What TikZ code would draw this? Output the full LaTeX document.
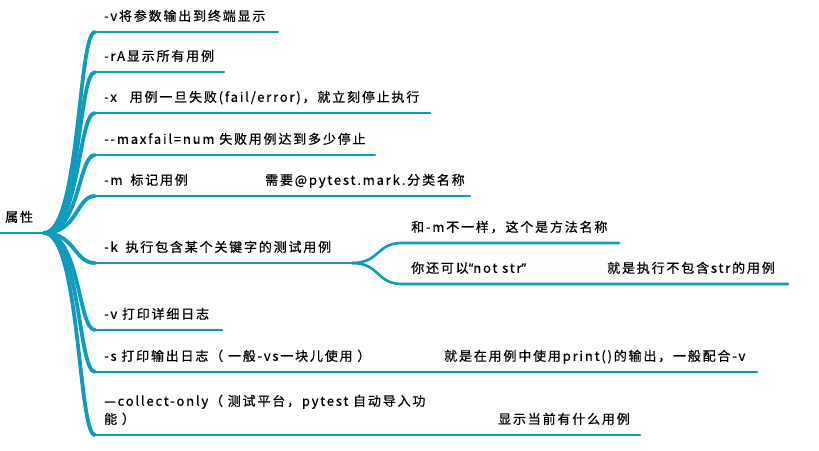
\documentclass[tikz,border=0pt]{standalone}
\usepackage{fontspec}
\setmainfont{Noto Sans CJK SC}[LetterSpace=14,FakeBold=0.6]
\newfontfamily\latinquote{Noto Sans}[FakeBold=0.6]
\definecolor{branchblue}{RGB}{16,154,187}

\begin{document}
\begin{tikzpicture}[x=1pt,y=-1pt,
    branch/.style={draw=branchblue,line width=2.6pt,line cap=round},
    stem/.style={draw=branchblue,line width=3.8pt,line cap=round},
    topic/.style={anchor=south west,inner xsep=9pt,inner ysep=8pt,text height=10pt,text depth=3pt,font=\fontsize{13}{18}\selectfont}]
\useasboundingbox (0,0) rectangle (819,450);

\node[topic,inner xsep=5pt] (root) at (0,233) {属性};
\coordinate (hub) at (44,233);
\draw[branch] (root.south west) -- (hub);

\node[topic] (v)       at (95,32)  {-v将参数输出到终端显示};
\coordinate (v-end) at (278,32);
\node[topic] (rA)      at (95,72)  {-rA显示所有用例};
\coordinate (rA-end) at (224,72);
\node[topic] (x)       at (95,113) {-x\hspace{1em}用例一旦失败(fail/error)，就立刻停止执行};
\coordinate (x-end) at (430,113);
\node[topic] (maxfail) at (95,155) {-{}-maxfail=num 失败用例达到多少停止};
\coordinate (maxfail-end) at (375,155);
\node[topic] (m)       at (95,196) {-m\hspace{0.6em}标记用例};
\node[topic] (mark)    at (256,196) {需要@pytest.mark.分类名称};
\coordinate (mark-end) at (470,196);

\node[topic] (k)       at (95,263) {-k\hspace{0.6em}执行包含某个关键字的测试用例};
\coordinate (k-fork) at (352,263);
\node[topic] (kdiff)   at (402,243) {和-m不一样，这个是方法名称};
\coordinate (kdiff-end) at (619,243);
\node[topic] (knot)    at (402,284) {你还可以{\latinquote “}not str{\latinquote ”}};
\node[topic] (knotstr) at (598,284) {就是执行不包含str的用例};
\coordinate (knotstr-end) at (788,284);

\node[topic] (vlog)    at (95,330) {-v 打印详细日志};
\coordinate (vlog-end) at (222,330);
\node[topic] (s)       at (95,372) {-s 打印输出日志（ 一般-vs一块儿使用 ）};
\node[topic] (print)   at (435,372) {就是在用例中使用print()的输出，一般配合-v};
\coordinate (print-end) at (757,372);
\node[topic,align=left] (collect) at (95,435) {—collect-only（ 测试平台，pytest 自动导入功\\能 ）};
\node[topic] (shown)   at (489,435) {显示当前有什么用例};
\coordinate (shown-end) at (640,435);

% branches above the root
\draw[stem] (hub) .. controls (80,233) and (78,32) .. (v.south west);
\draw[branch] (v.south west) -- (v-end);
\draw[stem] (hub) .. controls (80,233) and (78,72) .. (rA.south west);
\draw[branch] (rA.south west) -- (rA-end);
\draw[stem] (hub) .. controls (80,233) and (78,113) .. (x.south west);
\draw[branch] (x.south west) -- (x-end);
\draw[stem] (hub) .. controls (80,233) and (78,155) .. (maxfail.south west);
\draw[branch] (maxfail.south west) -- (maxfail-end);
\draw[stem] (hub) .. controls (78,233) and (76,196) .. (m.south west);
\draw[branch] (m.south west) -- (mark.south west) -- (mark-end);
% branches below the root
\draw[stem] (hub) .. controls (75,233) and (74,263) .. (k.south west);
\draw[branch] (k.south west) -- (k-fork);
\draw[branch] (k-fork) .. controls (380,263) and (376,243) .. (kdiff.south west) -- (kdiff-end);
\draw[branch] (k-fork) .. controls (380,263) and (376,284) .. (knot.south west) -- (knotstr.south west) -- (knotstr-end);
\draw[stem] (hub) .. controls (80,233) and (78,330) .. (vlog.south west);
\draw[branch] (vlog.south west) -- (vlog-end);
\draw[stem] (hub) .. controls (80,233) and (78,372) .. (s.south west);
\draw[branch] (s.south west) -- (print.south west) -- (print-end);
\draw[stem] (hub) .. controls (80,233) and (78,435) .. (collect.south west);
\draw[branch] (collect.south west) -- (shown.south west) -- (shown-end);
\end{tikzpicture}
\end{document}
